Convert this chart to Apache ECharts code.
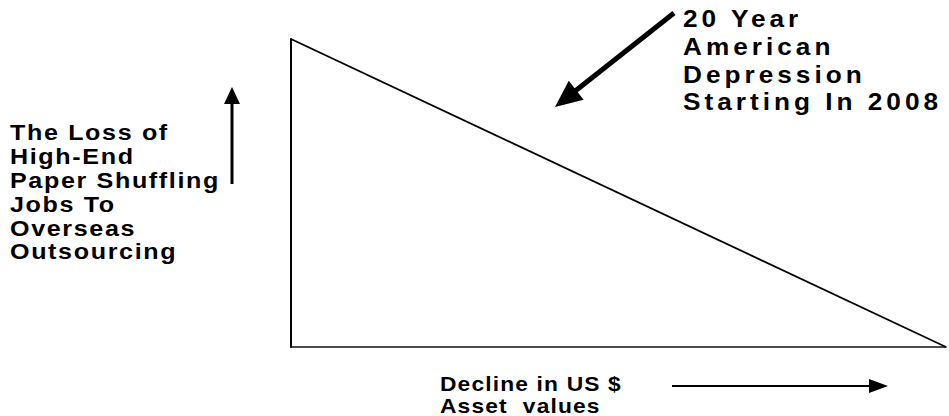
<!DOCTYPE html>
<html>
<head>
<meta charset="utf-8">
<script src="https://cdn.jsdelivr.net/npm/echarts@6/dist/echarts.min.js"></script>
<style>
  html, body { margin: 0; padding: 0; background: #fff; }
  #main { width: 949px; height: 416px; }
</style>
</head>
<body>
<div id="main"></div>
<script>
// 三角形的两个端点（坐标轴 0-100）
var xVals = [0, 100];
var yVals = [100, 0];

// 文字
var leftLines = ['The Loss of', 'High-End', 'Paper Shuffling', 'Jobs To', 'Overseas', 'Outsourcing'];
var topLines = ['20 Year', 'American', 'Depression', 'Starting In 2008'];
var bottomLines = ['Decline in US $', 'Asset  values'];

var FONT = "'Liberation Sans', Arial, Helvetica, sans-serif";
var SX = 1.14; //字形略宽

var chart = echarts.init(document.getElementById('main'), null, {renderer: 'svg'});

//箭头：线 + 三角形头
function arrow(x1, y1, x2, y2, lw, hl, hw){
  var dx = x2 - x1, dy = y2 - y1;
  var len = Math.sqrt(dx * dx + dy * dy);
  var ux = dx / len, uy = dy / len;
  var bx = x2 - ux * hl, by = y2 - uy * hl;
  var px = -uy * hw, py = ux * hw;
  return [{
    type: 'polyline', silent: true,
    shape: {points: [[x1, y1], [bx + ux * 2, by + uy * 2]]},
    style: {stroke: '#000', lineWidth: lw, fill: null}
  }, {
    type: 'polygon', silent: true,
    shape: {points: [[x2, y2], [bx + px, by + py], [bx - px, by - py]]},
    style: {fill: '#000', stroke: null}
  }];
}

//文字块
function textBlock(lines, x, y0, lh, size){
  return lines.map(function(s, i){
    return {
      type: 'text', silent: true,
      x: x, y: y0 + i * lh, scaleX: SX,
      style: {
        text: s, fill: '#000',
        font: 'bold ' + size + 'px ' + FONT,
        textAlign: 'left', textVerticalAlign: 'middle'
      }
    };
  });
}

var graphics = []
  .concat(arrow(674, 13, 555, 107, 5, 27, 12))
  .concat(arrow(232, 184, 232, 87, 3, 17, 8))
  .concat(arrow(672, 386, 888, 386, 2, 19, 7))
  .concat(textBlock(leftLines, 10, 133, 23.8, 22))
  .concat(textBlock(topLines, 683, 19, 27.8, 23))
  .concat(textBlock(bottomLines, 440, 384, 22, 20));

chart.setOption({
  animation: false,
  backgroundColor: '#fff',
  grid: {left: 291, top: 39, right: 3, bottom: 69},
  xAxis: {
    type: 'value', min: 0, max: 100,
    axisLine: {show: true, lineStyle: {color: '#111', width: 1.5}},
    axisTick: {show: false}, axisLabel: {show: false}, splitLine: {show: false}
  },
  yAxis: {
    type: 'value', min: 0, max: 100,
    axisLine: {show: true, lineStyle: {color: '#000', width: 2}},
    axisTick: {show: false}, axisLabel: {show: false}, splitLine: {show: false}
  },
  series: [{
    type: 'line',
    data: xVals.map(function(v, i){ return [v, yVals[i]]; }),
    symbol: 'none', clip: false, silent: true,
    lineStyle: {color: '#000', width: 1.8}
  }],
  graphic: graphics
});

//字间距：按参考图中最长一行的宽度
var blocks = [
  {lines: leftLines, ref: 'Paper Shuffling', width: 210},
  {lines: topLines, ref: 'Starting In 2008', width: 259},
  {lines: bottomLines, ref: 'Decline in US $', width: 182}
];
var spaced = false;
function applySpacing(){
  if (spaced) return;
  var els = document.querySelectorAll('#main text');
  if (!els.length) return;
  spaced = true;
  blocks.forEach(function(b){
    var ls = 0;
    for (var i = 0; i < els.length; i++) {
      if (els[i].textContent === b.ref) {
        ls = (b.width / SX - els[i].getComputedTextLength()) / b.ref.length;
      }
    }
    for (var j = 0; j < els.length; j++) {
      if (b.lines.indexOf(els[j].textContent) > -1) {
        els[j].setAttribute('letter-spacing', Math.max(ls, 0).toFixed(2));
      }
    }
  });
}
chart.on('finished', applySpacing);
setTimeout(applySpacing, 50);
</script>
</body>
</html>
